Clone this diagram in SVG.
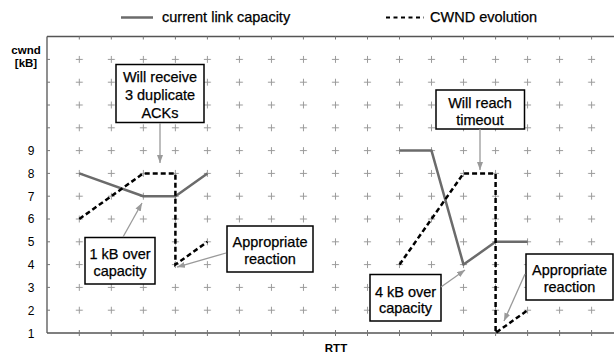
<svg xmlns="http://www.w3.org/2000/svg" width="614" height="354" viewBox="0 0 614 354">
<style>
text{font-family:"Liberation Sans",Arial,sans-serif;fill:#000}
.t{font-size:14.5px;text-anchor:middle;stroke:#000;stroke-width:0.25}
.leg{font-size:14.5px;stroke:#000;stroke-width:0.25}
.ax{font-size:11.5px;font-weight:bold;text-anchor:middle}
.num{font-size:12px;text-anchor:end}
.box{fill:#fff;stroke:#000;stroke-width:1.5}
.cap{fill:none;stroke:#6b6b6b;stroke-width:2.5;stroke-linejoin:round}
.cwnd{fill:none;stroke:#000;stroke-width:2.5;stroke-dasharray:5 3}
.arr{fill:none;stroke:#9a9a9a;stroke-width:1.3;marker-end:url(#ah)}
.frame{fill:none;stroke:#555;stroke-width:1.3}
.tick{fill:none;stroke:#777;stroke-width:1}
</style>
<defs>
<pattern id="plus" patternUnits="userSpaceOnUse" x="63.29" y="48" width="32.02" height="22.8">
<path d="M12.5 11.4h7M16.01 7.9v7" stroke="#9a9a9a" stroke-width="1" fill="none"/>
</pattern>
<marker id="ah" markerUnits="userSpaceOnUse" markerWidth="9" markerHeight="7" refX="8" refY="3" orient="auto">
<path d="M0 0L8 3L0 6z" fill="#9a9a9a"/>
</marker>
</defs>
<g id="legend">
<line x1="121" y1="17.5" x2="153" y2="17.5" class="cap"/>
<text class="leg" x="162" y="22">current link capacity</text>
<line x1="386" y1="17.5" x2="424" y2="17.5" stroke="#000" stroke-width="2" stroke-dasharray="4 3.5"/>
<text class="leg" x="430" y="22">CWND evolution</text>
</g>
<g id="axes">
<rect x="63.29" y="48" width="544.34" height="273.6" fill="url(#plus)"/>
<path class="frame" d="M47 36.5V333M47 36.5H614M47 333H614"/>
<path class="tick" d="M47 310.2h3M47 287.4h3M47 264.6h3M47 241.8h3M47 219h3M47 196.2h3M47 173.4h3M47 150.6h3M47 127.8h3M47 105h3M47 82.2h3M47 59.4h3"/>
<path class="tick" d="M79.3 330v6M111.3 330v6M143.3 330v6M175.4 330v6M207.4 330v6M239.4 330v6M271.4 330v6M303.4 330v6M335.5 330v6M367.5 330v6M399.5 330v6M431.5 330v6M463.5 330v6M495.6 330v6M527.6 330v6M559.6 330v6M591.6 330v6"/>
<path class="tick" d="M79.3 36.5v3M111.3 36.5v3M143.3 36.5v3M175.4 36.5v3M207.4 36.5v3M239.4 36.5v3M271.4 36.5v3M303.4 36.5v3M335.5 36.5v3M367.5 36.5v3M399.5 36.5v3M431.5 36.5v3M463.5 36.5v3M495.6 36.5v3M527.6 36.5v3M559.6 36.5v3M591.6 36.5v3"/>
<text class="ax" x="26" y="54">cwnd</text>
<text class="ax" x="26" y="67">[kB]</text>
<text class="num" x="34.5" y="155">9</text>
<text class="num" x="34.5" y="177.8">8</text>
<text class="num" x="34.5" y="200.6">7</text>
<text class="num" x="34.5" y="223.4">6</text>
<text class="num" x="34.5" y="246.2">5</text>
<text class="num" x="34.5" y="269">4</text>
<text class="num" x="34.5" y="291.8">3</text>
<text class="num" x="34.5" y="314.6">2</text>
<text class="num" x="34.5" y="337.8">1</text>
<text class="ax" x="336" y="352">RTT</text>
</g>
<g id="series">
<polyline class="cap" points="79.3,173.4 143.3,196.2 175.4,196.2 207.4,173.4"/>
<polyline class="cwnd" points="79.3,219 143.3,173.4 175.4,173.4 175.4,264.6 207.4,241.8"/>
<polyline class="cap" points="399.5,150.6 431.5,150.6 463.5,264.6 495.6,241.8 527.6,241.8"/>
<polyline class="cwnd" points="399.5,264.6 463.5,173.4 495.6,173.4 495.6,333 527.6,310.2"/>
</g>
<g id="n-dupacks">
<rect class="box" x="116" y="64.5" width="88" height="58"/>
<text class="t" x="160" y="82">Will receive</text>
<text class="t" x="160" y="100">3 duplicate</text>
<text class="t" x="160" y="118">ACKs</text>
</g>
<g id="n-1kb">
<rect class="box" x="85" y="237.5" width="70" height="46.5"/>
<text class="t" x="120" y="259">1 kB over</text>
<text class="t" x="120" y="275.5">capacity</text>
</g>
<g id="n-react1">
<rect class="box" x="227" y="226" width="86" height="46"/>
<text class="t" x="270" y="247">Appropriate</text>
<text class="t" x="270" y="263.5">reaction</text>
</g>
<g id="n-timeout">
<rect class="box" x="436" y="90" width="88.5" height="39"/>
<text class="t" x="480" y="108">Will reach</text>
<text class="t" x="480" y="124.5">timeout</text>
</g>
<g id="n-4kb">
<rect class="box" x="370" y="274.5" width="71" height="46.5"/>
<text class="t" x="405.5" y="296.5">4 kB over</text>
<text class="t" x="405.5" y="313">capacity</text>
</g>
<g id="n-react2">
<rect class="box" x="526" y="254" width="87" height="46"/>
<text class="t" x="569.5" y="275">Appropriate</text>
<text class="t" x="569.5" y="291.5">reaction</text>
</g>
<g id="connectors">
<line class="arr" x1="160" y1="123" x2="160" y2="163"/>
<line class="arr" x1="123" y1="237" x2="142" y2="203"/>
<line class="arr" x1="226" y1="253" x2="177" y2="267"/>
<line class="arr" x1="480" y1="129" x2="480" y2="170"/>
<line class="arr" x1="441" y1="287" x2="465" y2="270"/>
<line class="arr" x1="525" y1="274" x2="504" y2="321"/>
</g>
</svg>
